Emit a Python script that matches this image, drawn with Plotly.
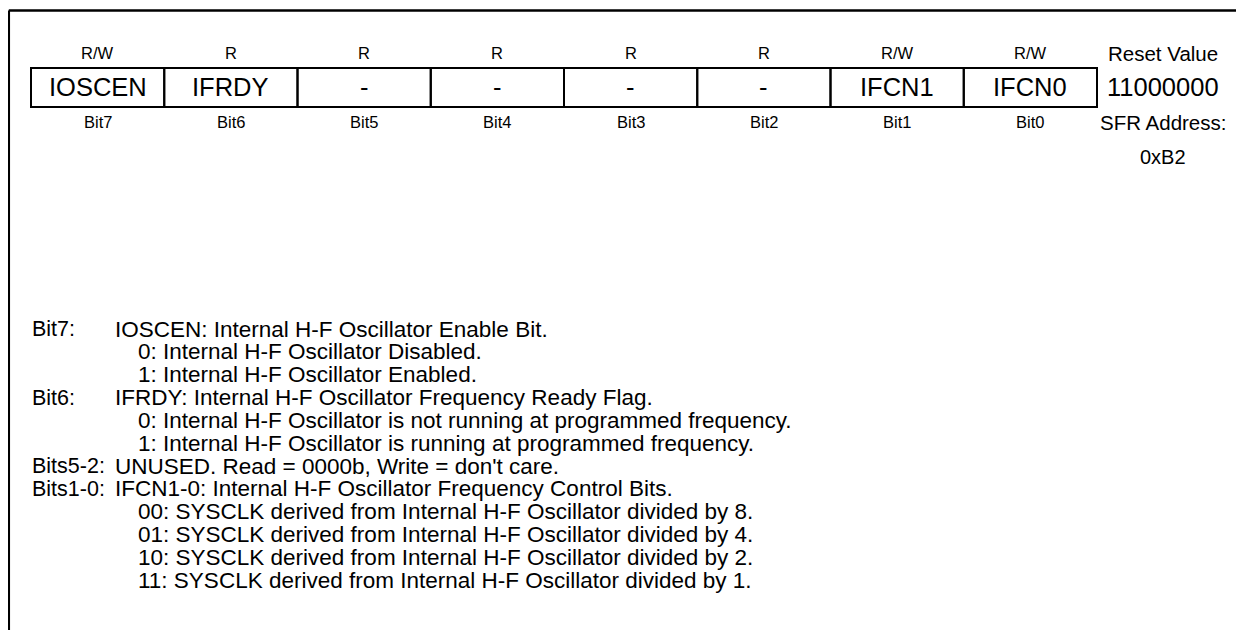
import plotly.graph_objects as go

# ---- data ----
access = ["R/W", "R", "R", "R", "R", "R", "R/W", "R/W"]
bit_names = ["IOSCEN", "IFRDY", "-", "-", "-", "-", "IFCN1", "IFCN0"]
bit_labels = ["Bit7", "Bit6", "Bit5", "Bit4", "Bit3", "Bit2", "Bit1", "Bit0"]
reset_title = "Reset Value"
reset_value = "11000000"
sfr_title = "SFR Address:"
sfr_value = "0xB2"

desc_labels = ["Bit7:", "", "", "Bit6:", "", "", "Bits5-2:", "Bits1-0:", "", "", "", ""]
desc_texts = [
    "IOSCEN: Internal H-F Oscillator Enable Bit.",
    "0: Internal H-F Oscillator Disabled.",
    "1: Internal H-F Oscillator Enabled.",
    "IFRDY: Internal H-F Oscillator Frequency Ready Flag.",
    "0: Internal H-F Oscillator is not running at programmed frequency.",
    "1: Internal H-F Oscillator is running at programmed frequency.",
    "UNUSED. Read = 0000b, Write = don't care.",
    "IFCN1-0: Internal H-F Oscillator Frequency Control Bits.",
    "00: SYSCLK derived from Internal H-F Oscillator divided by 8.",
    "01: SYSCLK derived from Internal H-F Oscillator divided by 4.",
    "10: SYSCLK derived from Internal H-F Oscillator divided by 2.",
    "11: SYSCLK derived from Internal H-F Oscillator divided by 1.",
]
desc_indent = [0, 1, 1, 0, 1, 1, 0, 0, 1, 1, 1, 1]

# ---- layout geometry (page pixels; the HTML body adds an 8 px offset) ----
OFF = 8
W, H = 1244 - OFF, 630 - OFF
FONT = "Liberation Sans, Arial, sans-serif"
cell_x0, cell_w = 31, 133.25
cell_y0, cell_y1 = 68, 107
y_access, y_name, y_bit, y_addr = 53, 87, 122, 157
x_reset = 1163
y_desc0, dy_desc = 329, 22.85
x_lab, x_txt, x_sub = 31, 114, 137

SZ_SMALL, SZ_NAME, SZ_RESET, SZ_ADDR = 16.5, 25.5, 20.5, 20
SZ_LAB, SZ_DESC = 21.5, 22.5


def px(v):
    return v - OFF


fig = go.Figure()
shapes = []
annotations = []


def txt(x, y, s, size, anchor="center"):
    annotations.append(dict(x=px(x), y=px(y), text=s, showarrow=False,
                            xanchor=anchor, yanchor="middle", borderpad=0,
                            font=dict(size=size, family=FONT, color="black")))


# frame
shapes.append(dict(type="line", x0=px(8.8), x1=W, y0=px(10.5), y1=px(10.5),
                   line=dict(color="black", width=2.5)))
shapes.append(dict(type="line", x0=px(8.8), x1=px(8.8), y0=px(10.5), y1=H,
                   line=dict(color="black", width=2.5)))

for i in range(len(bit_names)):
    xa = cell_x0 + i * cell_w
    xb = xa + cell_w
    xc = (xa + xb) / 2
    shapes.append(dict(type="rect", x0=px(xa), x1=px(xb), y0=px(cell_y0), y1=px(cell_y1),
                       line=dict(color="black", width=2)))
    txt(xc, y_access, access[i], SZ_SMALL)
    txt(xc, y_name, bit_names[i], SZ_NAME)
    txt(xc, y_bit, bit_labels[i], SZ_SMALL)

txt(x_reset, y_access, reset_title, SZ_RESET)
txt(x_reset, y_name, reset_value, SZ_NAME)
txt(x_reset, y_bit, sfr_title, SZ_RESET)
txt(x_reset, y_addr, sfr_value, SZ_ADDR)

for k, (lab, line, ind) in enumerate(zip(desc_labels, desc_texts, desc_indent)):
    y = y_desc0 + k * dy_desc
    if lab:
        txt(x_lab, y, lab, SZ_LAB, anchor="left")
    txt(x_sub if ind else x_txt, y, line, SZ_DESC, anchor="left")

fig.update_layout(
    width=W, height=H,
    margin=dict(l=0, r=0, t=0, b=0),
    paper_bgcolor="white", plot_bgcolor="white",
    xaxis=dict(range=[0, W], visible=False, fixedrange=True),
    yaxis=dict(range=[H, 0], visible=False, fixedrange=True),
    shapes=shapes, annotations=annotations, showlegend=False,
)
fig.write_html("out.html")
